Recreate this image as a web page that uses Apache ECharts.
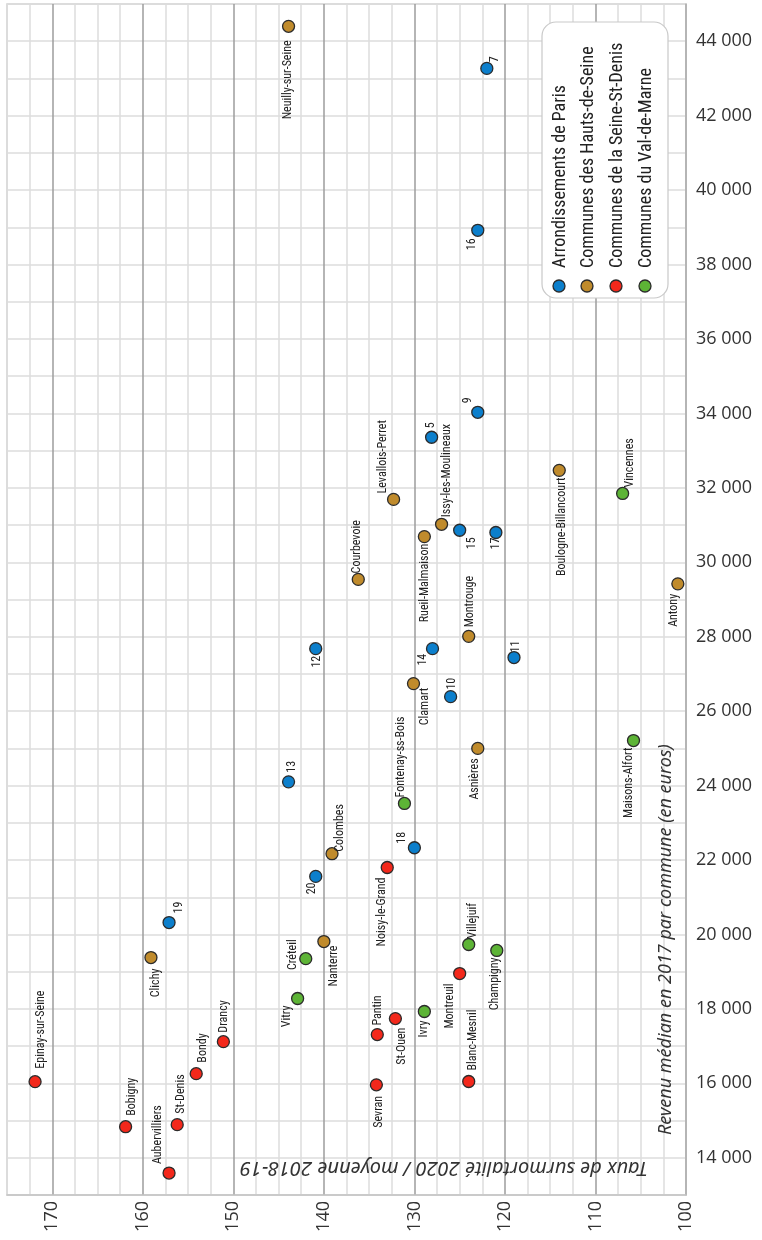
<!DOCTYPE html>
<html>
<head>
<meta charset="utf-8">
<script src="https://cdn.jsdelivr.net/npm/echarts@6/dist/echarts.min.js"></script>
<style>
html,body{margin:0;padding:0;background:#fff;}
#chart{width:762px;height:1240px;}
</style>
</head>
<body>
<div id="chart"></div>
<script>
// ---- Data (taux de surmortalité 2020 / moyenne 2018-19 ; revenu médian 2017) ----
const parisNames  = ['7','16','9','5','15','17','11','14','12','10','13','18','20','19'];
const parisTaux   = [122.0, 123.0, 123.0, 128.1, 125.0, 121.0, 119.0, 128.0, 140.9, 126.0, 143.9, 130.0, 140.9, 157.1];
const parisRevenu = [43270, 38920, 34030, 33360, 30860, 30800, 27440, 27680, 27680, 26390, 24100, 22330, 21560, 20320];

const hdsNames  = ['Neuilly-sur-Seine','Levallois-Perret','Boulogne-Billancourt','Issy-les-Moulineaux','Rueil-Malmaison','Courbevoie','Montrouge','Clamart','Asnières','Colombes','Nanterre','Clichy','Antony'];
const hdsTaux   = [143.9, 132.3, 114.0, 127.0, 128.9, 136.2, 124.0, 130.1, 123.0, 139.1, 140.0, 159.1, 100.9];
const hdsRevenu = [44400, 31690, 32470, 31020, 30690, 29540, 28010, 26740, 25000, 22170, 19810, 19380, 29420];

const ssdNames  = ['Epinay-sur-Seine','Bobigny','Aubervilliers','St-Denis','Bondy','Drancy','Pantin','St-Ouen','Sevran','Noisy-le-Grand','Montreuil','Blanc-Mesnil'];
const ssdTaux   = [171.9, 161.9, 157.1, 156.2, 154.1, 151.1, 134.1, 132.1, 134.2, 133.0, 125.0, 124.0];
const ssdRevenu = [16045, 14835, 13590, 14890, 16260, 17120, 17310, 17740, 15960, 21800, 18950, 16050];

const vdmNames  = ['Vincennes','Maisons-Alfort','Fontenay-ss-Bois','Villejuif','Champigny','Ivry','Créteil','Vitry'];
const vdmTaux   = [107.0, 105.8, 131.1, 124.0, 120.9, 128.9, 142.0, 142.9];
const vdmRevenu = [31850, 25210, 23520, 19730, 19570, 17930, 19350, 18280];

const groupNames = ['Arrondissements de Paris','Communes des Hauts-de-Seine','Communes de la Seine-St-Denis','Communes du Val-de-Marne'];
const xTickLabels = [170,160,150,140,130,120,110,100];
const yTickLabels = [14000,16000,18000,20000,22000,24000,26000,28000,30000,32000,34000,36000,38000,40000,42000,44000];

// ---- Styles ----
const colors = ['#0c7fcc', '#c08b2c', '#f3281b', '#5db436'];
const narrow = '"Liberation Sans Narrow","Roboto Condensed","DejaVu Sans Condensed","Noto Sans",sans-serif';
const SYM = 12, BW = 1.3, BOX = SYM + BW;

// label placement (screen offset from point centre, and text anchoring)
const labelLayout = {
  '7':[8,-9,'c'], '16':[-6,14,'c'], '9':[-10,-12,'c'], '5':[-1,-12,'c'], '15':[12,13,'c'], '17':[0,11,'c'],
  '11':[2,-11,'c'], '14':[-10,11,'c'], '12':[1,13,'c'], '10':[1,-13,'c'], '13':[3,-15,'c'], '18':[-12,-10,'c'],
  '20':[-4,12,'c'], '19':[10,-15,'c'],
  'Neuilly-sur-Seine':[-1,14,'d'], 'Levallois-Perret':[-11,-6,'u'], 'Boulogne-Billancourt':[3,7,'d'],
  'Issy-les-Moulineaux':[5,-7,'u'], 'Rueil-Malmaison':[1,7,'d'], 'Courbevoie':[-1,-6,'u'], 'Montrouge':[1,-9,'u'],
  'Clamart':[12,4,'d'], 'Asnières':[-3,10,'d'], 'Colombes':[8,-2,'u'], 'Nanterre':[10,4,'d'], 'Clichy':[5,11,'d'],
  'Antony':[-4,10,'d'],
  'Epinay-sur-Seine':[6,-13,'u'], 'Bobigny':[6,-11,'u'], 'Aubervilliers':[-11,-9,'u'], 'St-Denis':[4,-11,'u'],
  'Bondy':[7,-11,'u'], 'Drancy':[1,-9,'u'], 'Pantin':[1,-9,'u'], 'St-Ouen':[7,9,'d'], 'Sevran':[3,11,'d'],
  'Noisy-le-Grand':[-5,10,'d'], 'Montreuil':[-10,10,'d'], 'Blanc-Mesnil':[4,-11,'u'],
  'Vincennes':[7,-6,'u'], 'Maisons-Alfort':[-4,7,'d'], 'Fontenay-ss-Bois':[-3,-6,'u'], 'Villejuif':[4,-6,'u'],
  'Champigny':[-2,7,'d'], 'Ivry':[0,9,'d'], 'Créteil':[-13,-4,'c'], 'Vitry':[-11,7,'d']
};

function buildData(names, taux, rev) {
  return names.map((n, i) => {
    const l = labelLayout[n] || [0, -10, 'u'];
    return {
      name: n,
      value: [taux[i], rev[i]],
      label: {
        position: [(50 + l[0] * 100 / BOX) + '%', (50 + l[1] * 100 / BOX) + '%'],
        align: l[2] === 'u' ? 'left' : (l[2] === 'd' ? 'right' : 'center'),
        verticalAlign: 'middle'
      }
    };
  });
}

function fmt(v) { return String(v).replace(/\B(?=(\d{3})+(?!\d))/g, ' '); }

const groups = [
  [parisNames, parisTaux, parisRevenu],
  [hdsNames, hdsTaux, hdsRevenu],
  [ssdNames, ssdTaux, ssdRevenu],
  [vdmNames, vdmTaux, vdmRevenu]
];

const series = groups.map((g, k) => ({
  name: groupNames[k],
  type: 'scatter',
  symbol: 'circle',
  symbolSize: SYM,
  itemStyle: { color: colors[k], borderColor: '#2b2b2b', borderWidth: BW, opacity: 1 },
  label: {
    show: true, formatter: '{b}', rotate: 90,
    fontFamily: narrow, fontSize: 12, color: '#222'
  },
  emphasis: { disabled: true },
  data: buildData(g[0], g[1], g[2]),
  z: 5
}));

// ---- Legend (drawn as graphic, text reading upwards) ----
const legendX = [559, 587, 616, 645];
const graphic = [
  { type: 'rect', shape: { x: 542, y: 22, width: 126, height: 276, r: 14 },
    style: { fill: '#fff', stroke: '#c9c9c9', lineWidth: 1.2 }, z: 10 }
];
groupNames.forEach((n, k) => {
  graphic.push({ type: 'circle', shape: { cx: legendX[k], cy: 286, r: 6 },
    style: { fill: colors[k], stroke: '#2b2b2b', lineWidth: 1.3 }, z: 11 });
  graphic.push({ type: 'text', x: legendX[k] + 1, y: 268, rotation: Math.PI / 2,
    style: { text: n, fill: '#222', font: '18px ' + narrow, align: 'left', verticalAlign: 'middle' }, z: 11 });
});
// axis titles
graphic.push({ type: 'text', x: 666, y: 1135, rotation: Math.PI / 2,
  style: { text: 'Revenu médian en 2017 par commune (en euros)', fill: '#333',
    font: 'italic 18px "Noto Sans",sans-serif', align: 'left', verticalAlign: 'middle' }, z: 11 });
graphic.push({ type: 'text', x: 648, y: 1168, rotation: Math.PI,
  style: { text: 'Taux de surmortalité 2020 / moyenne 2018-19', fill: '#333',
    font: 'italic 20px "Noto Sans",sans-serif', align: 'left', verticalAlign: 'middle' }, z: 11 });

const chart = echarts.init(document.getElementById('chart'), null, { renderer: 'canvas' });
chart.setOption({
  animation: false,
  backgroundColor: '#fff',
  grid: { left: 7, right: 76, top: 4, bottom: 45, show: true, borderColor: '#cfcfcf', borderWidth: 1.5, backgroundColor: 'transparent' },
  xAxis: {
    type: 'value', inverse: true, min: 100, max: 175, interval: 2.5,
    axisLine: { show: true, lineStyle: { color: '#c4c4c4', width: 1.5 } },
    axisTick: { show: false },
    axisLabel: {
      rotate: 90, margin: 6, fontSize: 18, color: '#333', fontFamily: '"Open Sans","Noto Sans",sans-serif',
      formatter: v => xTickLabels.indexOf(Math.round(v * 10) / 10) >= 0 ? String(v) : ''
    },
    splitLine: { show: true, lineStyle: { color: ['#9c9c9c', '#dcdcdc', '#dcdcdc', '#dcdcdc'], width: 1.5 } }
  },
  yAxis: {
    type: 'value', position: 'right', min: 13000, max: 45000, interval: 1000,
    axisLine: { show: true, lineStyle: { color: '#b8b8b8', width: 1.5 } },
    axisTick: { show: false },
    axisLabel: {
      margin: 10, fontSize: 18, color: '#333', fontFamily: '"Open Sans","Noto Sans",sans-serif',
      formatter: v => yTickLabels.indexOf(v) >= 0 ? fmt(v) : ''
    },
    splitLine: { show: true, lineStyle: { color: '#dcdcdc', width: 1.5 } }
  },
  series: series,
  graphic: graphic
});
</script>
</body>
</html>
